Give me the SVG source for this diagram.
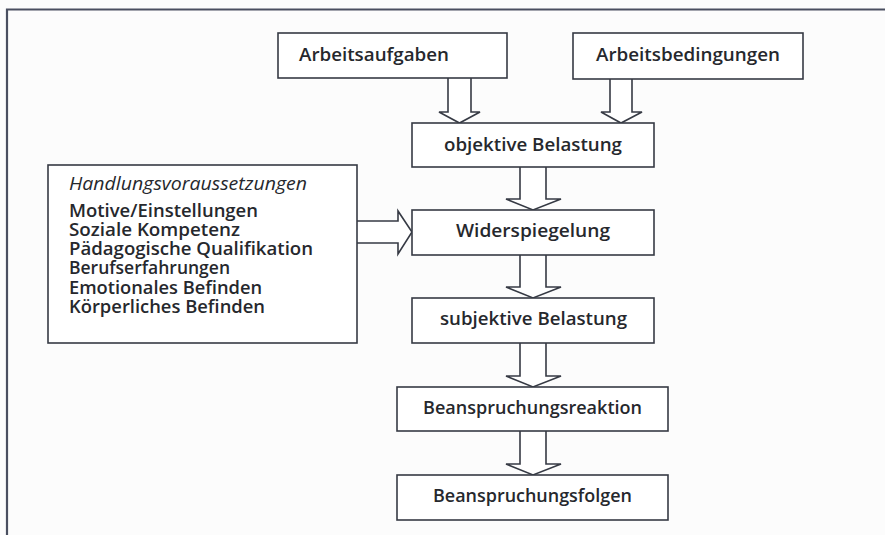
<svg xmlns="http://www.w3.org/2000/svg" width="885" height="535" viewBox="0 0 885 535">
<style>
.bg{fill:#fcfcfc}
.box{fill:#ffffff;stroke:#363a44;stroke-width:1.6}
.arr{fill:#ffffff;stroke:#363a44;stroke-width:1.6;stroke-linejoin:miter}
.frame{fill:none;stroke:#4a4f60;stroke-width:2.2}
text{font-family:"Open Sans","Noto Sans","Liberation Sans",sans-serif;font-size:18px;font-weight:600;fill:#26282d}
.it{font-style:italic;font-weight:400}
</style>
<rect class="bg" x="0" y="0" width="885" height="535"/>
<path class="frame" d="M7 535 V9.5 H885"/>
<g id="connectors">
<path class="arr" d="M448 78 V112 H439 L459.5 123 L480 112 H471 V78"/>
<path class="arr" d="M610 79 V112 H601 L621 123 L642 112 H632 V79"/>
<path class="arr" d="M520 167 V199 H506 L533 210 L561 199 H546 V167"/>
<path class="arr" d="M520 255 V287 H506 L533 298 L561 287 H546 V255"/>
<path class="arr" d="M520 343 V376 H506 L533 387 L561 376 H546 V343"/>
<path class="arr" d="M520 431 V464 H506 L533 475 L561 464 H546 V431"/>
<path class="arr" d="M357 221 H398 V211 L412 232 L398 254 V243 H357"/>
</g>
<g id="arbeitsaufgaben">
<rect class="box" x="278" y="33" width="229" height="45"/>
<text x="299" y="61" textLength="150" lengthAdjust="spacingAndGlyphs">Arbeitsaufgaben</text>
</g>
<g id="arbeitsbedingungen">
<rect class="box" x="573" y="33" width="230" height="46"/>
<text x="596" y="61" textLength="184" lengthAdjust="spacingAndGlyphs">Arbeitsbedingungen</text>
</g>
<g id="objektive-belastung">
<rect class="box" x="412" y="123" width="242" height="44"/>
<text x="444" y="151" textLength="178" lengthAdjust="spacingAndGlyphs">objektive Belastung</text>
</g>
<g id="widerspiegelung">
<rect class="box" x="412" y="210" width="242" height="45"/>
<text x="456" y="237" textLength="154" lengthAdjust="spacingAndGlyphs">Widerspiegelung</text>
</g>
<g id="subjektive-belastung">
<rect class="box" x="412" y="298" width="242" height="45"/>
<text x="440" y="325" textLength="187" lengthAdjust="spacingAndGlyphs">subjektive Belastung</text>
</g>
<g id="beanspruchungsreaktion">
<rect class="box" x="397" y="387" width="271" height="44"/>
<text x="423" y="414" textLength="219" lengthAdjust="spacingAndGlyphs">Beanspruchungsreaktion</text>
</g>
<g id="beanspruchungsfolgen">
<rect class="box" x="397" y="475" width="271" height="45"/>
<text x="433" y="502" textLength="199" lengthAdjust="spacingAndGlyphs">Beanspruchungsfolgen</text>
</g>
<g id="handlungsvoraussetzungen">
<rect class="box" x="48" y="165" width="309" height="178"/>
<text class="it" x="69" y="190" textLength="238" lengthAdjust="spacingAndGlyphs">Handlungsvoraussetzungen</text>
<text x="69" y="217" textLength="189" lengthAdjust="spacingAndGlyphs">Motive/Einstellungen</text>
<text x="69" y="236" textLength="171" lengthAdjust="spacingAndGlyphs">Soziale Kompetenz</text>
<text x="69" y="255" textLength="244" lengthAdjust="spacingAndGlyphs">Pädagogische Qualifikation</text>
<text x="69" y="274" textLength="161" lengthAdjust="spacingAndGlyphs">Berufserfahrungen</text>
<text x="69" y="294" textLength="193" lengthAdjust="spacingAndGlyphs">Emotionales Befinden</text>
<text x="69" y="313" textLength="196" lengthAdjust="spacingAndGlyphs">Körperliches Befinden</text>
</g>
</svg>
